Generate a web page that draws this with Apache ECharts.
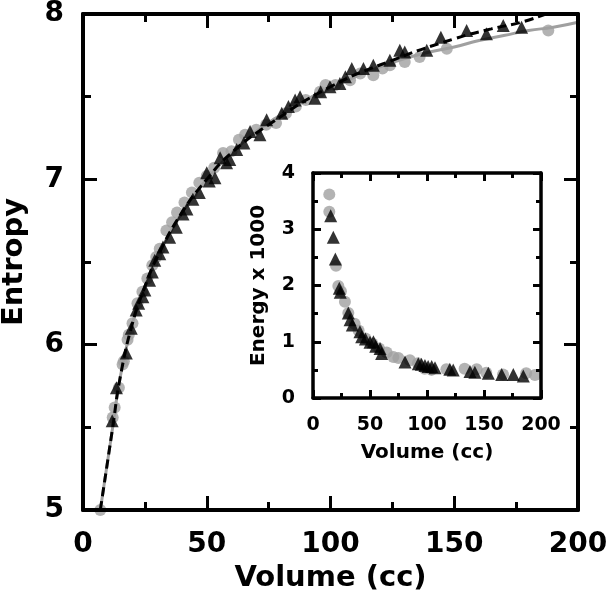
<!DOCTYPE html>
<html>
<head>
<meta charset="utf-8">
<script src="https://cdn.jsdelivr.net/npm/echarts@6/dist/echarts.min.js"></script>
<style>
html,body{margin:0;padding:0;background:#fff;}
#chart{width:611px;height:596px;}
</style>
</head>
<body>
<div id="chart"></div>
<script>
// Main plot: Entropy vs Volume (cc)
const mainXTicks = [0, 50, 100, 150, 200];
const mainYTicks = [5, 6, 7, 8];
const entropyCircles = [
  [7,5.00],[12,5.56],[12.8,5.62],[14.5,5.74],[16,5.88],[16.5,5.90],[18,6.03],[18.5,6.06],
  [20,6.13],[22,6.25],[24,6.32],[26,6.40],[28,6.48],[29.6,6.53],[31,6.58],[33.7,6.69],
  [36,6.74],[38,6.80],[41,6.86],[44,6.92],[47,6.98],[50,7.02],[53,7.07],[56.6,7.16],
  [60,7.17],[63,7.24],[65.5,7.27],[70,7.30],[74,7.33],[78,7.34],[82,7.40],[86,7.44],
  [90,7.48],[95.8,7.53],[98,7.57],[102,7.57],[107.9,7.60],[112,7.64],[117.3,7.63],
  [121,7.67],[124,7.69],[130,7.71],[136,7.74],[147,7.79],[188,7.90]
];
const entropyTriangles = [
  [11.8,5.54],[13.5,5.74],[17.5,5.95],[19.5,6.10],[21.5,6.21],[22.5,6.25],[24.2,6.29],
  [25,6.33],[26.9,6.39],[28,6.44],[29,6.51],[31,6.55],[32.3,6.59],[35,6.65],[37.7,6.71],
  [40.4,6.79],[42,6.82],[44.4,6.88],[47,6.92],[50,7.04],[51,6.99],[53.3,7.01],[55.4,7.13],
  [58,7.10],[59.3,7.12],[62.1,7.18],[65,7.22],[67.5,7.29],[71.5,7.27],[74.2,7.36],
  [80.3,7.40],[83,7.44],[85.7,7.48],[87.7,7.50],[93.7,7.49],[96,7.53],[99.8,7.56],
  [103.8,7.58],[106,7.62],[108.6,7.67],[113.3,7.67],[117.3,7.69],[124,7.72],[128,7.78],
  [130,7.77],[138.9,7.78],[144.6,7.86],[155,7.90],[163,7.88],[169.8,7.93],[177.2,7.92]
];
const entropyFitGray = [
  [7,5.0],[10,5.3],[12,5.5],[15,5.8],[20,6.13],[25,6.35],[30,6.53],[40,6.8],[50,7.0],
  [60,7.16],[70,7.29],[80,7.39],[90,7.48],[100,7.55],[110,7.62],[120,7.68],[130,7.73],
  [140,7.77],[150,7.80],[160,7.84],[170,7.87],[180,7.90],[190,7.92],[200,7.95]
];
const entropyFitDashed = [
  [7,5.0],[10,5.3],[12,5.5],[15,5.8],[20,6.13],[25,6.35],[30,6.53],[40,6.8],[50,7.0],
  [60,7.16],[75,7.33],[100,7.56],[125,7.72],[150,7.85],[165,7.91],[177,7.95],[187,8.0]
];

// Inset: Energy x 1000 vs Volume (cc)
const insetXTicks = [0, 50, 100, 150, 200];
const insetYTicks = [0, 1, 2, 3, 4];
const energyCircles = [
  [14.3,3.62],[14.3,3.31],[20.2,2.35],[22.2,1.99],[24.5,1.90],[28,1.71],[31,1.51],
  [36.5,1.32],[40,1.20],[46,1.06],[52,0.97],[58,0.88],[64.6,0.81],[70.5,0.73],[74.9,0.71],
  [85,0.67],[92,0.62],[98,0.52],[104,0.50],[117,0.51],[133,0.52],[143.6,0.51],[152,0.45],
  [166.7,0.42],[187,0.44],[194.7,0.41]
];
const energyTriangles = [
  [15.5,3.24],[17.8,2.86],[19.6,2.47],[23.1,1.95],[23.9,1.88],[31,1.51],[32.5,1.39],
  [34.5,1.30],[41.2,1.18],[42.7,1.09],[46,1.05],[50,0.99],[53,1.00],[55,0.92],[58.8,0.88],
  [60.2,0.79],[80.7,0.64],[92.4,0.61],[95,0.60],[98.2,0.58],[101,0.56],[104.1,0.56],
  [107,0.54],[120,0.51],[123,0.50],[137.7,0.47],[142,0.46],[153.8,0.44],[165.5,0.42],
  [175.7,0.42],[184.5,0.39]
];

const FONT = 'DejaVu Sans';
const GRAY = '#a0a0a0';

function axis(opts) {
  const o = {
    type: 'value',
    gridIndex: opts.grid,
    position: opts.position,
    min: opts.min, max: opts.max, interval: opts.interval,
    axisLine: {show: true, onZero: false, lineStyle: {color: '#000', width: opts.lw}},
    axisTick: {show: true, inside: true, length: opts.tl, lineStyle: {color: '#000', width: opts.tw}},
    minorTick: {show: true, splitNumber: 2, length: opts.ml, lineStyle: {color: '#000', width: opts.tw}},
    splitLine: {show: false},
    axisLabel: {show: !!opts.labels, fontSize: opts.fs, fontWeight: 'bold', fontFamily: FONT, color: '#000', margin: opts.margin,
      formatter: v => (opts.labels && opts.labels.includes(v)) ? String(v) : ''},
    z: 5
  };
  if (opts.name) {
    o.name = opts.name;
    o.nameLocation = 'middle';
    o.nameGap = opts.nameGap;
    o.nameTextStyle = {fontSize: opts.nfs, fontWeight: 'bold', fontFamily: FONT, color: '#000'};
  }
  return o;
}

const chart = echarts.init(document.getElementById('chart'), null, {renderer: 'canvas'});
chart.setOption({
  animation: false,
  backgroundColor: '#fff',
  grid: [
    {left: 83, top: 14, width: 495, height: 496, containLabel: false, outerBoundsMode: 'none'},
    {left: 313, top: 173, width: 228, height: 225, containLabel: false, outerBoundsMode: 'none'}
  ],
  xAxis: [
    axis({grid:0, position:'bottom', min:0, max:200, interval:50, lw:4, tl:14, ml:8, tw:3, fs:28, margin:21, labels:mainXTicks, name:'Volume (cc)', nameGap:54, nfs:29}),
    axis({grid:0, position:'top', min:0, max:200, interval:50, lw:4, tl:14, ml:8, tw:3}),
    axis({grid:1, position:'bottom', min:0, max:200, interval:50, lw:3.5, tl:8, ml:5, tw:3, fs:19, margin:18, labels:insetXTicks, name:'Volume (cc)', nameGap:45, nfs:20}),
    axis({grid:1, position:'top', min:0, max:200, interval:50, lw:3.5, tl:8, ml:5, tw:3})
  ],
  yAxis: [
    axis({grid:0, position:'left', min:5, max:8, interval:1, lw:4, tl:14, ml:8, tw:3, fs:28, margin:19, labels:mainYTicks, name:'Entropy', nameGap:54, nfs:29}),
    axis({grid:0, position:'right', min:5, max:8, interval:1, lw:4, tl:14, ml:8, tw:3}),
    axis({grid:1, position:'left', min:0, max:4, interval:1, lw:3.5, tl:8, ml:5, tw:3, fs:19, margin:18, labels:insetYTicks, name:'Energy x 1000', nameGap:44, nfs:20}),
    axis({grid:1, position:'right', min:0, max:4, interval:1, lw:3.5, tl:8, ml:5, tw:3})
  ],
  series: [
    {type:'line', xAxisIndex:0, yAxisIndex:0, data:entropyFitGray, smooth:true, showSymbol:false,
      lineStyle:{color:GRAY, width:3}, z:2, clip:true},
    {type:'scatter', xAxisIndex:0, yAxisIndex:0, data:entropyCircles, symbol:'circle', symbolSize:12,
      itemStyle:{color:GRAY}, z:3},
    {type:'scatter', xAxisIndex:0, yAxisIndex:0, data:entropyTriangles, symbol:'triangle', symbolSize:13,
      itemStyle:{color:'#000'}, z:4},
    {type:'line', xAxisIndex:0, yAxisIndex:0, data:entropyFitDashed, smooth:true, showSymbol:false,
      lineStyle:{color:'#000', width:3, type:[9,5]}, z:4, clip:true},
    {type:'scatter', xAxisIndex:2, yAxisIndex:2, data:energyCircles, symbol:'circle', symbolSize:12,
      itemStyle:{color:GRAY}, z:3},
    {type:'scatter', xAxisIndex:2, yAxisIndex:2, data:energyTriangles, symbol:'triangle', symbolSize:13,
      itemStyle:{color:'#000'}, z:4}
  ]
});
</script>
</body>
</html>
